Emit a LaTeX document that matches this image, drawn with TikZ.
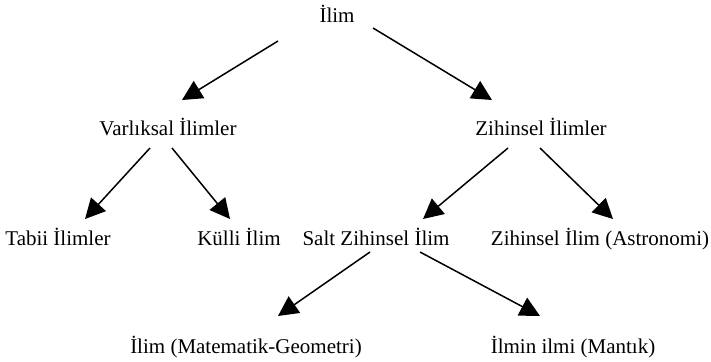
\documentclass[tikz,border=0pt]{standalone}
\usepackage{fontspec}
\setmainfont{Liberation Serif}
\usetikzlibrary{arrows.meta}
\begin{document}
\begin{tikzpicture}[x=0.5pt,y=-0.5pt,
  lbl/.style={anchor=base,inner sep=0pt,font=\fontsize{10.5}{12}\selectfont},
  arr/.style={line width=0.75pt,-{Triangle[length=10pt,width=10pt]}}]
\useasboundingbox (0,0) rectangle (711,361);
\node[lbl] (ilim) at (337,22) {İlim};
\node[lbl] (var) at (168,135) {Varlıksal İlimler};
\node[lbl] (zih) at (541,135) {Zihinsel İlimler};
\node[lbl] (tab) at (58,245) {Tabii İlimler};
\node[lbl] (kul) at (239,245) {Külli İlim};
\node[lbl] (salt) at (376,245) {Salt Zihinsel İlim};
\node[lbl] (ast) at (600,245) {Zihinsel İlim (Astronomi)};
\node[lbl] (mat) at (246,353) {İlim (Matematik-Geometri)};
\node[lbl] (man) at (573,353) {İlmin ilmi (Mantık)};
\coordinate (a1s) at (278,41); \coordinate (a1e) at (182,100);
\coordinate (a2s) at (373,28); \coordinate (a2e) at (492,100);
\coordinate (a3s) at (150,148); \coordinate (a3e) at (85,219);
\coordinate (a4s) at (172,148); \coordinate (a4e) at (230,219);
\coordinate (a5s) at (508,148); \coordinate (a5e) at (423,219);
\coordinate (a6s) at (540,148); \coordinate (a6e) at (613,219);
\coordinate (a7s) at (370,252); \coordinate (a7e) at (278,316);
\coordinate (a8s) at (420,252); \coordinate (a8e) at (540,316);
\draw[arr] (a1s) -- (a1e);
\draw[arr] (a2s) -- (a2e);
\draw[arr] (a3s) -- (a3e);
\draw[arr] (a4s) -- (a4e);
\draw[arr] (a5s) -- (a5e);
\draw[arr] (a6s) -- (a6e);
\draw[arr] (a7s) -- (a7e);
\draw[arr] (a8s) -- (a8e);
\end{tikzpicture}
\end{document}
